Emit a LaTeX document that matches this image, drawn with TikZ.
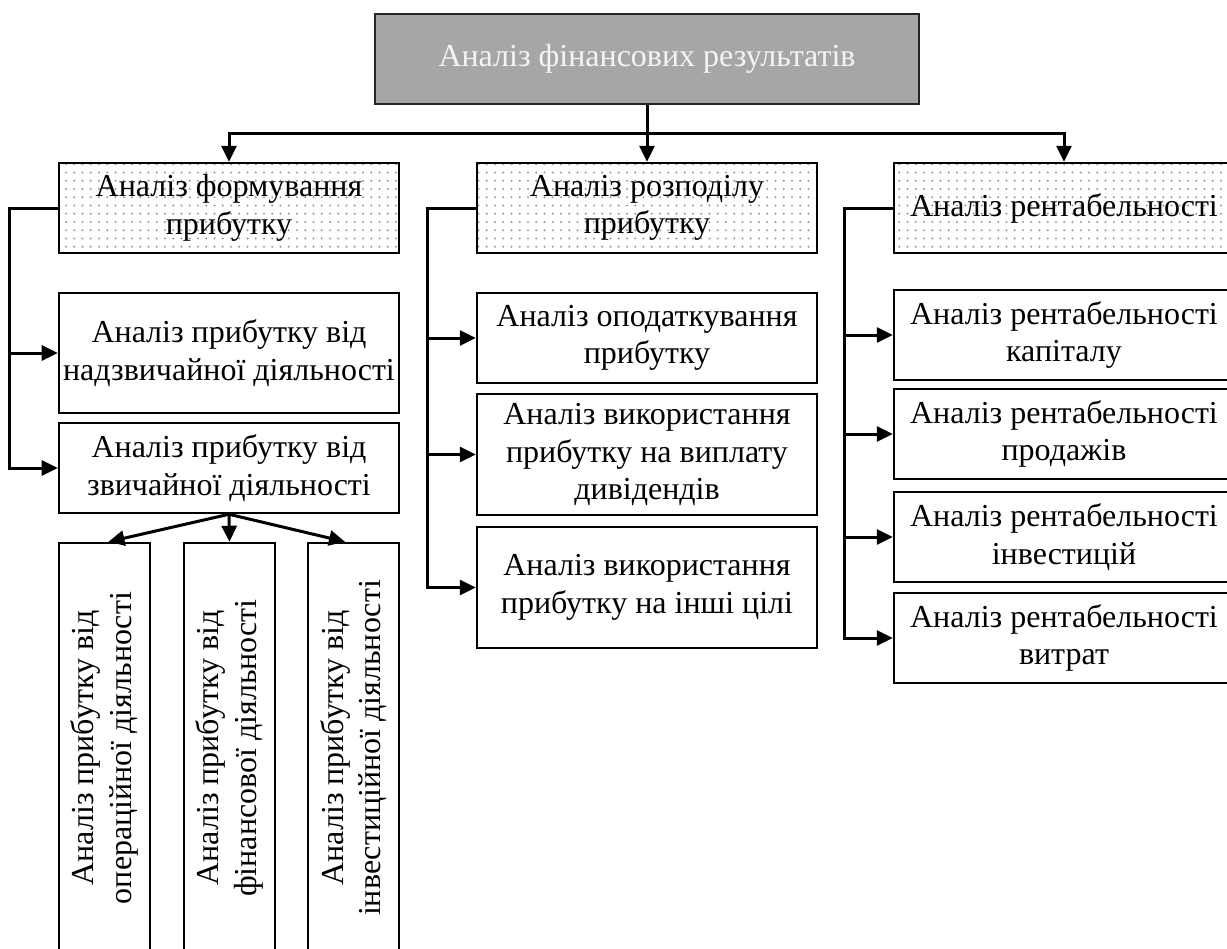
\documentclass[tikz,border=0pt]{standalone}
\usepackage{fontspec}
\setmainfont{Liberation Serif}
\usetikzlibrary{arrows.meta,patterns.meta}
\definecolor{topgray}{HTML}{A6A6A6}
\definecolor{toptext}{HTML}{F4F4F4}
\tikzset{
	box/.style={draw=black, line width=1pt, align=center, inner sep=1pt,
		minimum width=136pt, minimum height=36pt, font=\fontsize{12.8}{15}\selectfont},
	dotbox/.style={box, pattern={Dots[distance=3.3pt,radius=0.45pt]}, pattern color=black!40},
	topbox/.style={box, fill=topgray, draw=black!85, text=toptext, minimum width=217.6pt},
	vbox/.style={box, rotate=90, minimum width=164pt, minimum height=36.4pt},
	link/.style={line width=1.2pt, -{Triangle[length=6.4pt,width=6pt]}}
}

\begin{document}
\begin{tikzpicture}[x=0.4pt,y=-0.4pt]
			%%%%% START %%%%%
			\useasboundingbox (0,0) rectangle (1227,948);
			\clip (0,0) rectangle (1227,948);
			
			\node[topbox] (fin) at (647,59) {Аналіз фінансових результатів};
			
			\node[dotbox] (form) at (229,208) {Аналіз формування\\прибутку};
			\node[dotbox] (rozp) at (647,208) {Аналіз розподілу\\прибутку};
			\node[dotbox] (rent) at (1064,208) {Аналіз рентабельності};
			
			\node[box, minimum height=48pt] (nadz) at (229,353) {Аналіз прибутку від\\надзвичайної діяльності};
			\node[box] (zvych) at (229,468) {Аналіз прибутку від\\звичайної діяльності};
			
			\node[vbox] (oper) at (104.5,748) {Аналіз прибутку від\\операційної діяльності};
			\node[vbox] (fins) at (229.5,748) {Аналіз прибутку від\\фінансової діяльності};
			\node[vbox] (inv) at (353.5,748) {Аналіз прибутку від\\інвестиційної діяльності};
			
			\node[box] (podat) at (647,338) {Аналіз оподаткування\\прибутку};
			\node[box, minimum height=48.4pt] (divid) at (647,454.5) {Аналіз використання\\прибутку на виплату\\дивідендів};
			\node[box, minimum height=48.4pt] (inshi) at (647,587.5) {Аналіз використання\\прибутку на інші цілі};
			
			\node[box] (kapit) at (1064,335) {Аналіз рентабельності\\капіталу};
			\node[box] (prod) at (1064,434) {Аналіз рентабельності\\продажів};
			\node[box] (invest) at (1064,537) {Аналіз рентабельності\\інвестицій};
			\node[box] (vytr) at (1064,638) {Аналіз рентабельності\\витрат};
			
			\coordinate (bus) at (647,133);
			\draw[link] (fin.south) -- (rozp.north);
			\draw[link] (bus) -| (form.north);
			\draw[link] (bus) -| (rent.north);
			
			\draw[link] (form.west) -- ++(-48,0) |- (nadz.west);
			\draw[link] (form.west) -- ++(-48,0) |- (zvych.west);
			
			\draw[link] (zvych.south) -- ([xshift=1.6pt]oper.east);
			\draw[link] (zvych.south) -- (fins.east);
			\draw[link] (zvych.south) -- ([xshift=-3.4pt]inv.east);
			
			\draw[link] (rozp.west) -- ++(-48,0) |- (podat.west);
			\draw[link] (rozp.west) -- ++(-48,0) |- (divid.west);
			\draw[link] (rozp.west) -- ++(-48,0) |- (inshi.west);
			
			\draw[link] (rent.west) -- ++(-48,0) |- (kapit.west);
			\draw[link] (rent.west) -- ++(-48,0) |- (prod.west);
			\draw[link] (rent.west) -- ++(-48,0) |- (invest.west);
			\draw[link] (rent.west) -- ++(-48,0) |- (vytr.west);
			%%%%% END %%%%%
\end{tikzpicture}
\end{document}
